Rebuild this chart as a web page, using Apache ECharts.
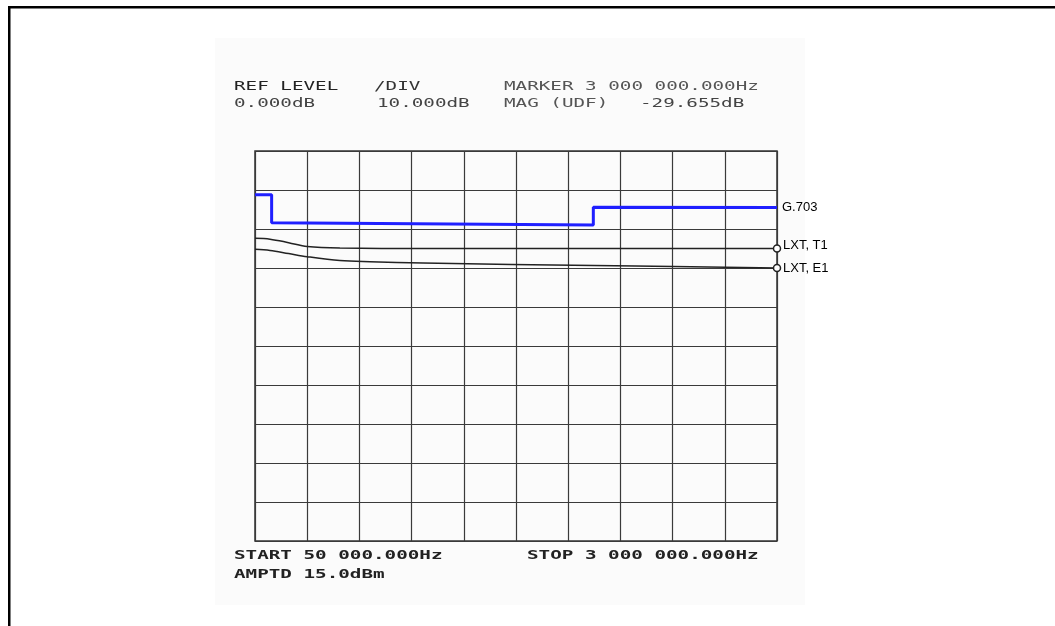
<!DOCTYPE html>
<html>
<head>
<meta charset="utf-8">
<script src="https://cdn.jsdelivr.net/npm/echarts@6/dist/echarts.min.js"></script>
<style>
html, body { margin: 0; padding: 0; background: #fff; }
#chart { width: 1055px; height: 626px; }
</style>
</head>
<body>
<div id="chart"></div>
<script>
// frequency in kHz, level in dB (0 dB at top, 10 dB/div)
var g703Freq = [50, 144, 144, 1962, 1962, 3000];
var g703Level = [-11.2, -11.2, -18.4, -19.0, -14.4, -14.5];

var t1Freq = [50, 135, 240, 345, 530, 1000, 3000];
var t1Level = [-22.4, -22.6, -23.5, -24.5, -24.9, -25.0, -25.0];

var e1Freq = [50, 135, 240, 345, 530, 700, 1000, 1500, 2200, 3000];
var e1Level = [-25.2, -25.5, -26.3, -27.1, -28.1, -28.4, -28.7, -29.1, -29.5, -30.0];

var freqStart = 50, freqStop = 3000;
var refLevel = 0, levelPerDiv = 10, divsY = 10, divsX = 10;

var headerRow1 = ['REF LEVEL', '/DIV', 'MARKER 3 000 000.000Hz'];
var headerRow2 = ['0.000dB', '10.000dB', 'MAG (UDF)', '-29.655dB'];
var footerRow1 = ['START 50 000.000Hz', 'STOP 3 000 000.000Hz'];
var footerRow2 = ['AMPTD 15.0dBm'];

function pairs(xs, ys) {
  return xs.map(function (x, i) { return [x, ys[i]]; });
}

var chart = echarts.init(document.getElementById('chart'));

var mono = '13px "DejaVu Sans Mono"';
var monoBold = 'bold 13px "DejaVu Sans Mono"';
function txt(s, x, y, font, color) {
  return {
    type: 'text', x: x, y: y, scaleX: 1.48, z: 5,
    style: { text: s, font: font, fill: color, verticalAlign: 'middle', textVerticalAlign: 'middle' }
  };
}

var endMark = function (n) {
  return function (v, p) { return p.dataIndex === n - 1 ? 7 : 0; };
};

chart.setOption({
  animation: false,
  backgroundColor: '#fff',
  grid: {
    left: 255, top: 151, width: 522, height: 390,
    show: true, borderColor: '#333', borderWidth: 1.5, backgroundColor: 'transparent'
  },
  xAxis: [
    { type: 'value', min: freqStart, max: freqStop, show: false },
    {
      type: 'value', min: 0, max: divsX, interval: 1,
      axisLine: { show: false }, axisTick: { show: false }, axisLabel: { show: false },
      splitLine: { show: true, lineStyle: { color: '#3a3a3a', width: 1.2 } }
    }
  ],
  yAxis: {
    type: 'value', min: refLevel - levelPerDiv * divsY, max: refLevel, interval: levelPerDiv,
    axisLine: { show: false }, axisTick: { show: false }, axisLabel: { show: false },
    splitLine: { show: true, lineStyle: { color: '#3a3a3a', width: 1.2 } }
  },
  graphic: [
    { type: 'rect', z: -10, shape: { x: 215, y: 38, width: 590, height: 567 }, style: { fill: '#fbfbfb' } },
    { type: 'rect', z: 10, shape: { x: 9.25, y: 7.25, width: 1200, height: 800 }, style: { fill: 'none', stroke: '#000', lineWidth: 2.5 } },
    txt(headerRow1[0], 234, 87, mono, '#222'),
    txt(headerRow1[1], 374, 87, mono, '#333'),
    txt(headerRow1[2], 504, 87, mono, '#555'),
    txt(headerRow2[0], 234, 104, mono, '#444'),
    txt(headerRow2[1], 377, 104, mono, '#444'),
    txt(headerRow2[2], 504, 104, mono, '#555'),
    txt(headerRow2[3], 640, 104, mono, '#444'),
    txt(footerRow1[0], 234, 556, monoBold, '#222'),
    txt(footerRow1[1], 527, 556, monoBold, '#222'),
    txt(footerRow2[0], 234, 575, monoBold, '#222')
  ],
  series: [
    {
      name: 'G.703', type: 'line', xAxisIndex: 0, symbol: 'none',
      data: pairs(g703Freq, g703Level),
      lineStyle: { color: '#1f1fff', width: 3 }, itemStyle: { color: '#1f1fff' },
      endLabel: { show: true, formatter: 'G.703', color: '#000', fontFamily: 'Liberation Sans', fontSize: 13, distance: 5 }
    },
    {
      name: 'LXT, T1', type: 'line', xAxisIndex: 0, smooth: 0.35,
      symbol: 'circle', symbolSize: endMark(t1Freq.length), showAllSymbol: true,
      data: pairs(t1Freq, t1Level),
      lineStyle: { color: '#222', width: 1.5 },
      itemStyle: { color: '#fff', borderColor: '#222', borderWidth: 1.5 },
      endLabel: { show: true, formatter: 'LXT, T1', color: '#000', fontFamily: 'Liberation Sans', fontSize: 13, distance: 6, offset: [0, -3] }
    },
    {
      name: 'LXT, E1', type: 'line', xAxisIndex: 0, smooth: 0.35,
      symbol: 'circle', symbolSize: endMark(e1Freq.length), showAllSymbol: true,
      data: pairs(e1Freq, e1Level),
      lineStyle: { color: '#222', width: 1.5 },
      itemStyle: { color: '#fff', borderColor: '#222', borderWidth: 1.5 },
      endLabel: { show: true, formatter: 'LXT, E1', color: '#000', fontFamily: 'Liberation Sans', fontSize: 13, distance: 6 }
    }
  ]
});
</script>
</body>
</html>
